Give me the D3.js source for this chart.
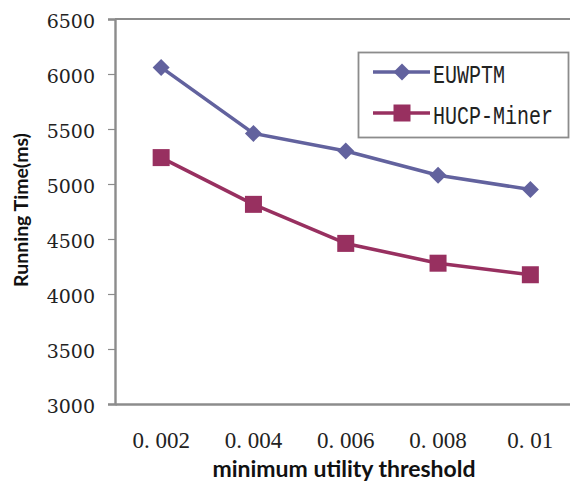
<!DOCTYPE html>
<html>
<head>
<meta charset="utf-8">
<script src="https://cdn.jsdelivr.net/npm/d3@7"></script>
<style>
  html, body { margin: 0; padding: 0; background: #fff; }
  svg { display: block; }
</style>
</head>
<body>
<svg id="chart" width="570" height="482"></svg>
<script>
// Running time of the two miners across minimum utility thresholds
const thresholds = ["0.002", "0.004", "0.006", "0.008", "0.01"];
const thresholdLabels = ["0. 002", "0. 004", "0. 006", "0. 008", "0. 01"];
const euwptm = [6060, 5460, 5300, 5080, 4950];
const hucpMiner = [5240, 4815, 4460, 4280, 4175];
const yTicks = [3000, 3500, 4000, 4500, 5000, 5500, 6000, 6500];

const seriesList = [
  { name: "EUWPTM", values: euwptm, color: "#62629e", marker: "diamond" },
  { name: "HUCP-Miner", values: hucpMiner, color: "#983060", marker: "square" }
];

const svg = d3.select("#chart");
const plot = { left: 115, right: 576.5, top: 19, bottom: 404 };
const axisColor = "#8c8c8c";

const x = d3.scaleBand().domain(thresholds).range([plot.left, plot.right]).padding(0);
const y = d3.scaleLinear().domain([3000, 6500]).range([plot.bottom, plot.top]);

// top frame line of the plot area
svg.append("line")
  .attr("x1", plot.left).attr("x2", 570)
  .attr("y1", y(6500)).attr("y2", y(6500))
  .attr("stroke", axisColor).attr("stroke-width", 2.2);

// y axis
const yAxis = svg.append("g")
  .attr("transform", `translate(${plot.left},0)`)
  .call(d3.axisLeft(y).tickValues(yTicks).tickSize(7).tickPadding(13).tickFormat(d3.format("d")))
  .attr("font-family", "'DejaVu Serif'")
  .attr("font-size", 19);
yAxis.select(".domain").attr("stroke", axisColor).attr("stroke-width", 2.4);
yAxis.selectAll(".tick line").attr("stroke", axisColor).attr("stroke-width", 1.2);
yAxis.selectAll(".tick text")
  .attr("dy", "0.45em")
  .attr("fill", "#222")
  .attr("font-family", "'DejaVu Serif'")
  .attr("font-size", 19);

// x axis
const xAxis = svg.append("g")
  .attr("transform", `translate(0,${plot.bottom})`)
  .call(d3.axisBottom(x).tickSize(0).tickFormat((d, i) => thresholdLabels[i]))
  .attr("font-family", "'Liberation Serif'")
  .attr("font-size", 23);
xAxis.select(".domain").attr("stroke", axisColor).attr("stroke-width", 2.4);
xAxis.selectAll(".tick text")
  .attr("y", 44)
  .attr("dy", 0)
  .attr("fill", "#222")
  .attr("font-family", "'Liberation Serif'")
  .attr("font-size", 23);

// series lines and markers
const cx = d => x(d) + x.bandwidth() / 2;
const line = d3.line().x((v, i) => cx(thresholds[i])).y(v => y(v));

function drawMarker(g, type, color) {
  if (type === "diamond") {
    g.append("path").attr("d", "M0,-8.5L8.5,0L0,8.5L-8.5,0Z").attr("fill", color);
  } else {
    g.append("rect").attr("x", -8.5).attr("y", -8.5).attr("width", 17).attr("height", 17).attr("fill", color);
  }
}

seriesList.forEach(s => {
  svg.append("path")
    .datum(s.values)
    .attr("d", line)
    .attr("fill", "none")
    .attr("stroke", s.color)
    .attr("stroke-width", 3.6)
    .attr("stroke-linejoin", "round");
  s.values.forEach((v, i) => {
    const g = svg.append("g").attr("transform", `translate(${cx(thresholds[i])},${y(v)})`);
    drawMarker(g, s.marker, s.color);
  });
});

// legend
const legend = svg.append("g");
legend.append("rect")
  .attr("x", 358.5).attr("y", 52.5).attr("width", 210).attr("height", 85)
  .attr("fill", "#fff").attr("stroke", axisColor).attr("stroke-width", 1.8);
seriesList.forEach((s, i) => {
  const ly = 72 + i * 41;
  legend.append("line")
    .attr("x1", 373).attr("x2", 430).attr("y1", ly).attr("y2", ly)
    .attr("stroke", s.color).attr("stroke-width", 3.6);
  drawMarker(legend.append("g").attr("transform", `translate(402,${ly})`), s.marker, s.color);
  legend.append("text")
    .attr("transform", `translate(433,${ly + 10.5}) scale(1,1.25)`)
    .attr("fill", "#222")
    .attr("font-family", "'Liberation Mono'")
    .attr("font-size", 20)
    .text(s.name);
});

// axis titles
svg.append("text")
  .attr("x", 344).attr("y", 477)
  .attr("text-anchor", "middle")
  .attr("font-family", "Lato")
  .attr("font-weight", "bold")
  .attr("font-size", 23)
  .attr("fill", "#111")
  .text("minimum utility threshold");

svg.append("text")
  .attr("transform", "translate(28,210) rotate(-90)")
  .attr("text-anchor", "middle")
  .attr("font-family", "Lato")
  .attr("font-weight", "bold")
  .attr("font-size", 19.5)
  .attr("fill", "#111")
  .text("Running Time(ms)");
</script>
</body>
</html>
